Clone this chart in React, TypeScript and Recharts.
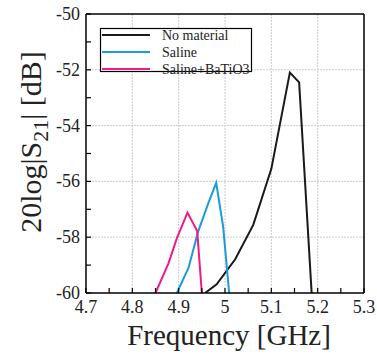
import { LineChart, Line, XAxis, YAxis, CartesianGrid, Legend, Label } from 'recharts';

// S21 transmission around the 5 GHz resonance
const noMaterialFreq = [4.957, 4.982, 5.022, 5.061, 5.1, 5.14, 5.16, 5.187];
const noMaterialDb = [-60, -59.69, -58.79, -57.56, -55.55, -52.1, -52.45, -60];

const salineFreq = [4.896, 4.921, 4.942, 4.964, 4.981, 4.996, 5.009];
const salineDb = [-60, -59.11, -57.8, -56.78, -56.05, -57.62, -60];

const batioFreq = [4.85, 4.878, 4.896, 4.919, 4.94, 4.95];
const batioDb = [-60, -58.94, -58.04, -57.12, -57.78, -60];

const xTicks = [4.7, 4.75, 4.8, 4.85, 4.9, 4.95, 5, 5.05, 5.1, 5.15, 5.2, 5.25, 5.3];
const xMajor = [4.7, 4.8, 4.9, 5, 5.1, 5.2, 5.3];
const xTickLabels = ['4.7', '4.8', '4.9', '5', '5.1', '5.2', '5.3'];
const yTicks = [-60, -59, -58, -57, -56, -55, -54, -53, -52, -51, -50];
const yMajor = [-60, -58, -56, -54, -52, -50];

const toPoints = (f: number[], d: number[]) => f.map((x, i) => ({ x, y: d[i] }));

const series = [
  { name: 'No material', color: '#1a1a1a', data: toPoints(noMaterialFreq, noMaterialDb) },
  { name: 'Saline', color: '#1b9bd7', data: toPoints(salineFreq, salineDb) },
  { name: 'Saline+BaTiO3', color: '#ee1b8b', data: toPoints(batioFreq, batioDb) },
];

const FONT = '"Liberation Serif", "Times New Roman", serif';
const TICK = 5;

const near = (a: number, b: number) => Math.abs(a - b) < 1e-6;

const BottomTick = ({ x, y, payload }: any) => {
  const idx = xMajor.findIndex((m) => near(m, payload.value));
  return (
    <g>
      <line x1={x} x2={x} y1={y} y2={y - TICK} stroke="#000" strokeWidth={1.2} />
      {idx >= 0 && (
        <text x={x} y={y + 20} textAnchor="middle" fontSize={18} fontFamily={FONT} fill="#222">
          {xTickLabels[idx]}
        </text>
      )}
    </g>
  );
};

const TopTick = ({ x, y }: any) => (
  <line x1={x} x2={x} y1={y} y2={y + TICK} stroke="#000" strokeWidth={1.2} />
);

const LeftTick = ({ x, y, payload }: any) => {
  const major = yMajor.some((m) => near(m, payload.value));
  return (
    <g>
      <line x1={x} x2={x + TICK} y1={y} y2={y} stroke="#000" strokeWidth={1.2} />
      {major && (
        <text x={x - 6} y={y + 6} textAnchor="end" fontSize={18} fontFamily={FONT} fill="#222">
          {payload.value}
        </text>
      )}
    </g>
  );
};

const RightTick = ({ x, y }: any) => (
  <line x1={x} x2={x - TICK} y1={y} y2={y} stroke="#000" strokeWidth={1.2} />
);

const XTitle = () => (
  <text x={229} y={345} textAnchor="middle" fontSize={29} fontFamily={FONT} fill="#222">
    Frequency [GHz]
  </text>
);

const YTitle = () => (
  <text
    transform="translate(41, 142) rotate(-90)"
    textAnchor="middle"
    fontSize={30}
    fontFamily={FONT}
    fill="#222"
  >
    20log|S<tspan fontSize={22} dy={7}>21</tspan>
    <tspan dy={-7}>| [dB]</tspan>
  </text>
);

const LegendBox = () => (
  <svg width={153} height={52} style={{ display: 'block', overflow: 'visible' }}>
    <rect x={0.5} y={0.5} width={151} height={43} fill="#fff" stroke="#000" strokeWidth={1.2} />
    {series.map((s, i) => {
      const cy = 7 + i * 17;
      return (
        <g key={s.name}>
          <line x1={2} x2={50} y1={cy} y2={cy} stroke={s.color} strokeWidth={2} />
          <text x={62} y={cy + 5} fontSize={14} fontFamily={FONT} fill="#222">
            {s.name}
          </text>
        </g>
      );
    })}
  </svg>
);

export default function App() {
  return (
    <div style={{ position: 'absolute', left: 0, top: 0, background: '#fff' }}>
      <LineChart width={377} height={355} margin={{ top: 13, right: 12, left: 85, bottom: 61 }}>
        <CartesianGrid
          stroke="#c9ccd6"
          strokeDasharray="2 1"
          verticalValues={[4.8, 4.9, 5, 5.1, 5.2]}
          horizontalValues={[-52, -54, -56, -58]}
        />
        <XAxis
          type="number"
          dataKey="x"
          domain={[4.7, 5.3]}
          ticks={xTicks}
          interval={0}
          height={1}
          tickSize={0}
          tickMargin={0}
          tickLine={false}
          axisLine={{ stroke: '#000', strokeWidth: 1.5 }}
          tick={<BottomTick />}
        >
          <Label content={<XTitle />} />
        </XAxis>
        <XAxis
          xAxisId="top"
          orientation="top"
          type="number"
          dataKey="x"
          domain={[4.7, 5.3]}
          ticks={xTicks}
          interval={0}
          height={1}
          tickSize={0}
          tickMargin={0}
          tickLine={false}
          axisLine={{ stroke: '#000', strokeWidth: 1.5 }}
          tick={<TopTick />}
        />
        <YAxis
          type="number"
          domain={[-60, -50]}
          ticks={yTicks}
          interval={0}
          width={1}
          tickSize={0}
          tickMargin={0}
          tickLine={false}
          allowDataOverflow
          axisLine={{ stroke: '#000', strokeWidth: 1.5 }}
          tick={<LeftTick />}
        >
          <Label content={<YTitle />} />
        </YAxis>
        <YAxis
          yAxisId="right"
          orientation="right"
          type="number"
          domain={[-60, -50]}
          ticks={yTicks}
          interval={0}
          width={1}
          tickSize={0}
          tickMargin={0}
          tickLine={false}
          axisLine={{ stroke: '#000', strokeWidth: 1.5 }}
          tick={<RightTick />}
        />
        <Legend
          layout="vertical"
          align="center"
          verticalAlign="middle"
          content={<LegendBox />}
          wrapperStyle={{ position: 'absolute', left: 100, top: 28, width: 153, height: 52 }}
        />
        {series.map((s) => (
          <Line
            key={s.name}
            name={s.name}
            data={s.data}
            dataKey="y"
            stroke={s.color}
            strokeWidth={2}
            dot={false}
            activeDot={false}
            isAnimationActive={false}
          />
        ))}
      </LineChart>
    </div>
  );
}
